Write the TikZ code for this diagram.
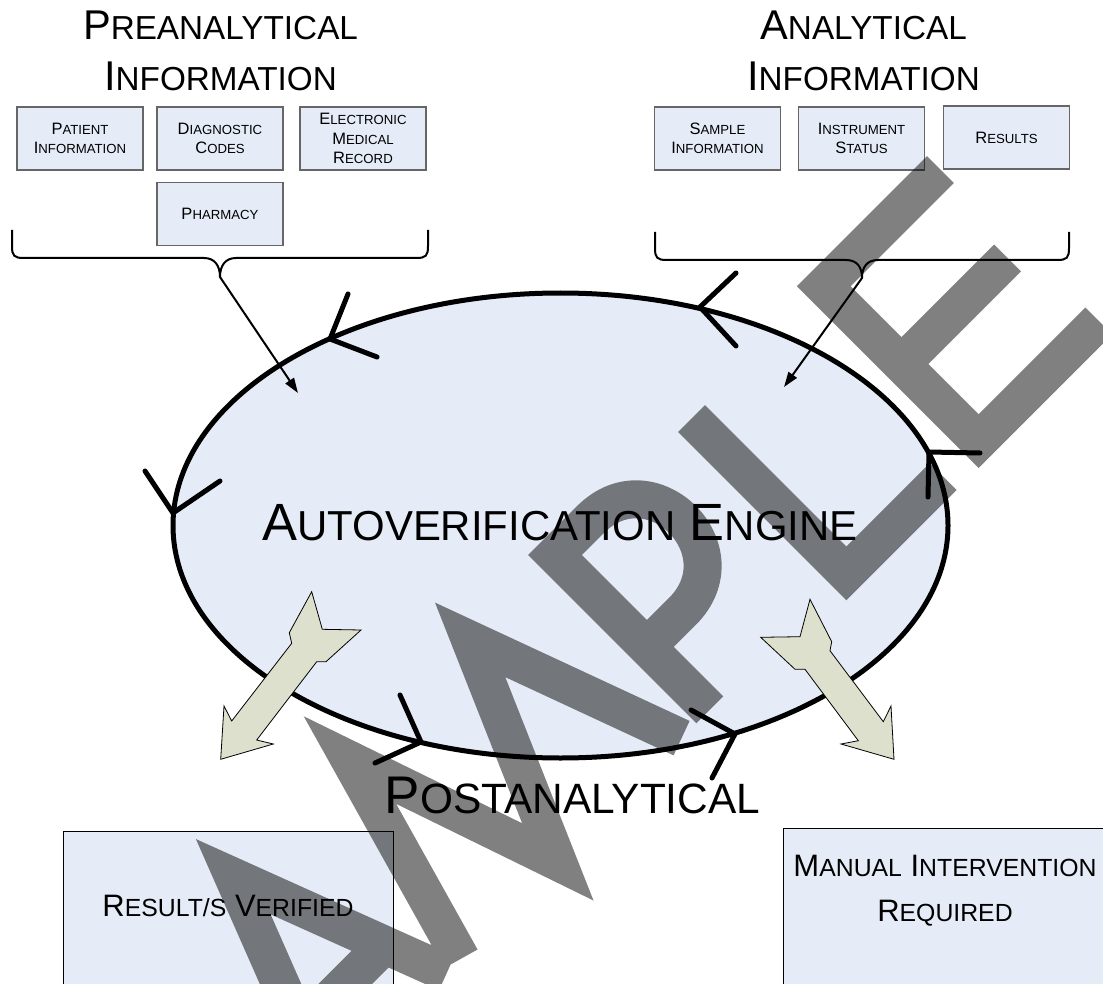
\documentclass[tikz,border=0pt]{standalone}
\usepackage{fontspec}
\setmainfont{Liberation Sans}
\usepackage{graphicx}
\usepackage{tikz}
\usetikzlibrary{shapes.geometric,arrows.meta}
\definecolor{engineblue}{RGB}{230,236,247}
\definecolor{arrowgreen}{RGB}{221,224,204}
\newcommand\smc[2]{#1\scalebox{0.8}{#2}}
\def\flowtip(#1)(#2)(#3){\draw[line width=5pt, line cap=round, line join=round] (#1) -- (#2) -- (#3);}

\begin{document}
\begin{tikzpicture}[x=1pt, y=-1pt,
	headtext/.style={align=center, font=\fontsize{41.6}{51}\selectfont},
	infobox/.style={draw=black!60, line width=1.2pt, fill=engineblue, minimum width=126pt, minimum height=63pt, inner sep=0pt, align=center, font=\fontsize{16.5}{19.5}\selectfont},
	bigbox/.style={draw=black, line width=1pt, fill=engineblue, minimum width=330pt, minimum height=220pt, inner sep=0pt, anchor=north west},
	bigtext/.style={align=center, font=\fontsize{31}{45}\selectfont},
	bracket/.style={line width=2pt, line join=round},
	feed/.style={line width=2pt, -{Triangle[length=15pt, width=10pt]}},
	blockarrow/.style={fill=arrowgreen, draw=black, line width=0.8pt, line join=miter},
	markstroke/.style={draw=black!50, line width=38pt, line join=miter}]
	
	\useasboundingbox (0,0) rectangle (1103,984);
	\clip (0,0) rectangle (1103,984);
	
	%%%%% INPUTS %%%%%
	\node[headtext] (pretitle) at (220.5,51) {\smc{P}{REANALYTICAL}\\\smc{I}{NFORMATION}};
	\node[headtext] (antitle) at (863.5,51) {\smc{A}{NALYTICAL}\\\smc{I}{NFORMATION}};
	
	\node[infobox] (patient) at (80,138.5) {\smc{P}{ATIENT}\\\smc{I}{NFORMATION}};
	\node[infobox] (codes) at (220,138.5) {\smc{D}{IAGNOSTIC}\\\smc{C}{ODES}};
	\node[infobox] (emr) at (363,138.5) {\smc{E}{LECTRONIC}\\\smc{M}{EDICAL}\\\smc{R}{ECORD}};
	\node[infobox] (pharmacy) at (220,214) {\smc{P}{HARMACY}};
	
	\node[infobox] (sample) at (717.5,138.5) {\smc{S}{AMPLE}\\\smc{I}{NFORMATION}};
	\node[infobox] (instrument) at (861.5,138.5) {\smc{I}{NSTRUMENT}\\\smc{S}{TATUS}};
	\node[infobox] (results) at (1006.5,137.5) {\smc{R}{ESULTS}};
	
	\coordinate (pretip) at (220,277);
	\coordinate (antip) at (862,278);
	\coordinate (prein) at (298,393);
	\coordinate (anin) at (784,387);
	\draw[bracket] (12,230) -- (12,246) .. controls (12,256) and (14,258) .. (24,258) -- (204,258)
		.. controls (215,258) and (220,266) .. (pretip) .. controls (220,266) and (225,258) .. (236,258)
		-- (416,258) .. controls (426,258) and (428,256) .. (428,246) -- (428,230);
	\draw[bracket] (655,232) -- (655,248) .. controls (655,258) and (657,260) .. (667,260) -- (846,260)
		.. controls (857,260) and (862,267) .. (antip) .. controls (862,267) and (867,260) .. (878,260)
		-- (1057,260) .. controls (1067,260) and (1069,258) .. (1069,248) -- (1069,232);
	
	%%%%% ENGINE %%%%%
	\node[ellipse, draw=black, line width=5pt, fill=engineblue, minimum width=775pt, minimum height=465pt, inner sep=0pt] (engine) at (560.5,525.5) {};
	\node[font=\fontsize{52.4}{60}\selectfont] (enginetext) at (560,523) {\smc{A}{UTOVERIFICATION} \smc{E}{NGINE}};
	
	\draw[feed] (pretip) -- (prein);
	\draw[feed] (antip) -- (anin);
	
	\flowtip(980,453)(929,452)(928,497)
	\flowtip(736,273)(700,307)(736,346)
	\flowtip(348,294)(330,339)(377,357)
	\flowtip(145,471)(173,513)(220,481)
	\flowtip(400,695)(421,742)(375,763)
	\flowtip(691,710)(735,734)(712,778)
	
	\draw[blockarrow] (220.7,759.3) -- (224,706) -- (231.7,721) -- (291.7,643.3) -- (289.3,632.7) -- (311.7,591.7) -- (322.3,629.3)
		-- (361,630) -- (326,661.7) -- (316.7,661.7) -- (256.7,740) -- (273.3,744) -- cycle;
	\draw[blockarrow] (894,759.3) -- (891,706) -- (883.3,721.7) -- (830,650.7) -- (831.7,641.7) -- (810,599.3) -- (800,636.7)
		-- (760.7,637.3) -- (795,669.3) -- (805,669.3) -- (858.3,740.7) -- (841,744) -- cycle;
	
	%%%%% OUTPUTS %%%%%
	\node[font=\fontsize{53}{60}\selectfont] (post) at (572.5,795) {\smc{P}{OSTANALYTICAL}};
	
	\node[bigbox] (verified) at (63,831) {};
	\node[bigtext] (verifiedtext) at (228,906) {\smc{R}{ESULT/S} \smc{V}{ERIFIED}};
	\node[bigbox] (manual) at (783,828) {};
	\node[bigtext] (manualtext) at (945,891) {\smc{M}{ANUAL} \smc{I}{NTERVENTION}\\\smc{R}{EQUIRED}};
	
	%%%%% WATERMARK %%%%%
	\begin{scope}[shift={(555,555)}, rotate=45, blend mode=multiply]
		\draw[markstroke]
			% S
			(-625,40) .. controls (-650,0) and (-750,5) .. (-750,55) .. controls (-750,110) and (-625,100) .. (-625,160)
			.. controls (-625,225) and (-740,225) .. (-760,180)
			% A
			(-540,219) -- (-455,0) -- (-372,219)
			(-516,155) -- (-396,155)
			% M
			(-352,219) -- (-290,0) -- (-215,219) -- (-120,0) -- (-40,219)
			% P
			(0,219) -- (0,0) -- (50,0) .. controls (137,0) and (137,130) .. (50,130) -- (0,130)
			% L
			(193,0) -- (193,219) -- (330,219)
			% E
			(545,0) -- (380,0) -- (380,219) -- (550,219)
			(380,110) -- (530,110);
	\end{scope}
\end{tikzpicture}
\end{document}
